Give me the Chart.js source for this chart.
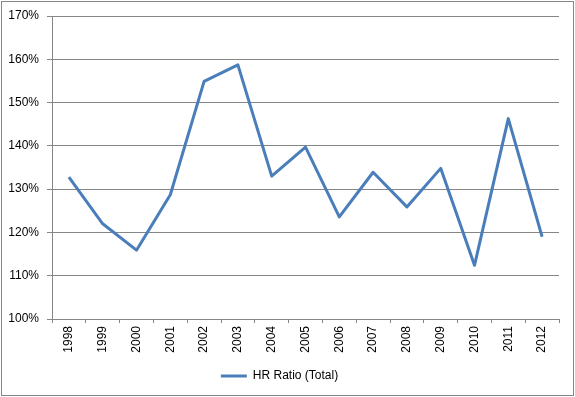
<!DOCTYPE html>
<html lang="en">
<head>
    <meta charset="UTF-8">
    <title>HR Ratio (Total)</title>
    <script src="https://cdn.jsdelivr.net/npm/chart.js"></script>
    <style>
        html, body {
            margin: 0;
            padding: 0;
            background: #fff;
        }
        .chart-box {
            width: 575px;
            height: 397px;
        }
    </style>
</head>
<body>
    <div class="chart-box">
        <canvas id="hrChart"></canvas>
    </div>

    <script>
        const years = ['1998', '1999', '2000', '2001', '2002', '2003', '2004', '2005',
                       '2006', '2007', '2008', '2009', '2010', '2011', '2012'];
        const hrRatio = [132.8, 122.0, 115.9, 128.7, 154.9, 158.7, 133.0, 139.7,
                         123.6, 133.9, 125.9, 134.8, 112.4, 146.3, 119.0];
        const yTicks = { min: 100, max: 170, step: 10 };
        const seriesName = 'HR Ratio (Total)';

        const gridGray = '#868686';
        const lineBlue = '#4A7EBB';
        const fontFamily = '"Liberation Sans", Arial, sans-serif';

        // outer frame like the Excel chart border
        const frame = {
            id: 'frame',
            beforeDraw(chart) {
                const ctx = chart.ctx;
                ctx.save();
                ctx.fillStyle = '#fff';
                ctx.fillRect(0, 0, chart.width, chart.height);
                ctx.strokeStyle = gridGray;
                ctx.lineWidth = 1;
                ctx.strokeRect(1.5, 1.5, chart.width - 3, chart.height - 3);
                ctx.restore();
            }
        };

        Chart.defaults.font.family = fontFamily;
        Chart.defaults.font.size = 12;
        Chart.defaults.color = '#000';

        new Chart(document.getElementById('hrChart'), {
            type: 'line',
            data: {
                labels: years,
                datasets: [{
                    label: seriesName,
                    data: hrRatio,
                    borderColor: lineBlue,
                    backgroundColor: lineBlue,
                    borderWidth: 3,
                    pointRadius: 0,
                    tension: 0,
                    borderJoinStyle: 'round'
                }]
            },
            options: {
                responsive: true,
                maintainAspectRatio: false,
                animation: false,
                layout: {
                    padding: { top: 16, right: 16, left: 0, bottom: 5 }
                },
                plugins: {
                    tooltip: { enabled: false },
                    legend: {
                        position: 'bottom',
                        labels: {
                            boxWidth: 26,
                            boxHeight: 3,
                            padding: 10,
                            generateLabels(chart) {
                                return Chart.defaults.plugins.legend.labels.generateLabels(chart)
                                    .map(l => Object.assign(l, { lineWidth: 0, fillStyle: lineBlue }));
                            }
                        }
                    }
                },
                scales: {
                    x: {
                        offset: true,
                        grid: {
                            offset: true,
                            drawOnChartArea: false,
                            drawTicks: true,
                            tickLength: 4,
                            color: gridGray
                        },
                        border: { display: true, color: gridGray },
                        ticks: {
                            minRotation: 90,
                            maxRotation: 90,
                            padding: 3,
                            autoSkip: false
                        },
                        afterFit(scale) {
                            scale.height = 41;
                        }
                    },
                    y: {
                        min: yTicks.min,
                        max: yTicks.max,
                        grid: {
                            color: gridGray,
                            drawTicks: true,
                            tickLength: 5
                        },
                        border: { display: true, color: gridGray },
                        ticks: {
                            stepSize: yTicks.step,
                            padding: 8,
                            callback: v => v + '%'
                        },
                        afterFit(scale) {
                            scale.width = 52;
                        }
                    }
                }
            },
            plugins: [frame]
        });
    </script>
</body>
</html>
